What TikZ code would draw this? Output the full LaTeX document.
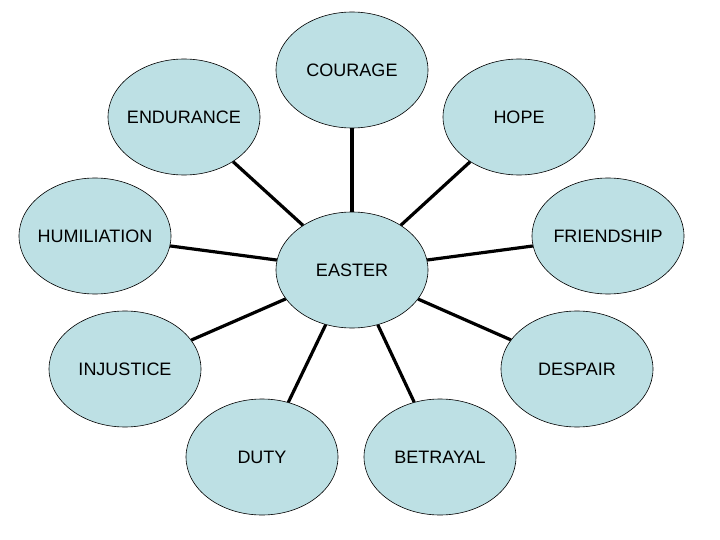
\documentclass[tikz,border=0pt]{standalone}
\usepackage{fontspec}
\setmainfont{Liberation Sans}
\usetikzlibrary{shapes.geometric}
\definecolor{bubble}{RGB}{189,224,228}
\begin{document}
\begin{tikzpicture}[x=1pt,y=-1pt,
  bub/.style={ellipse,draw=black,line width=0.6pt,fill=bubble,minimum width=152pt,minimum height=116pt,inner sep=0pt,
    label={[font=\fontsize{18}{21}\selectfont,inner sep=0pt]center:#1}},
  conn/.style={line width=3.2pt,black}]
\useasboundingbox (0,0) rectangle (720,540);
\node[bub=EASTER] (easter) at (352,270) {};
\node[bub=COURAGE] (courage) at (352,70) {};
\node[bub=ENDURANCE] (endurance) at (184,117) {};
\node[bub=HOPE] (hope) at (519,117) {};
\node[bub=HUMILIATION] (humiliation) at (95,236) {};
\node[bub=FRIENDSHIP] (friendship) at (608,236) {};
\node[bub=INJUSTICE] (injustice) at (125,369) {};
\node[bub=DESPAIR] (despair) at (577,369) {};
\node[bub=DUTY] (duty) at (262,457) {};
\node[bub=BETRAYAL] (betrayal) at (440,457) {};
\foreach \n in {courage,endurance,hope,humiliation,friendship,injustice,despair,duty,betrayal}
  \draw[conn] (easter) -- (\n);
\end{tikzpicture}
\end{document}
